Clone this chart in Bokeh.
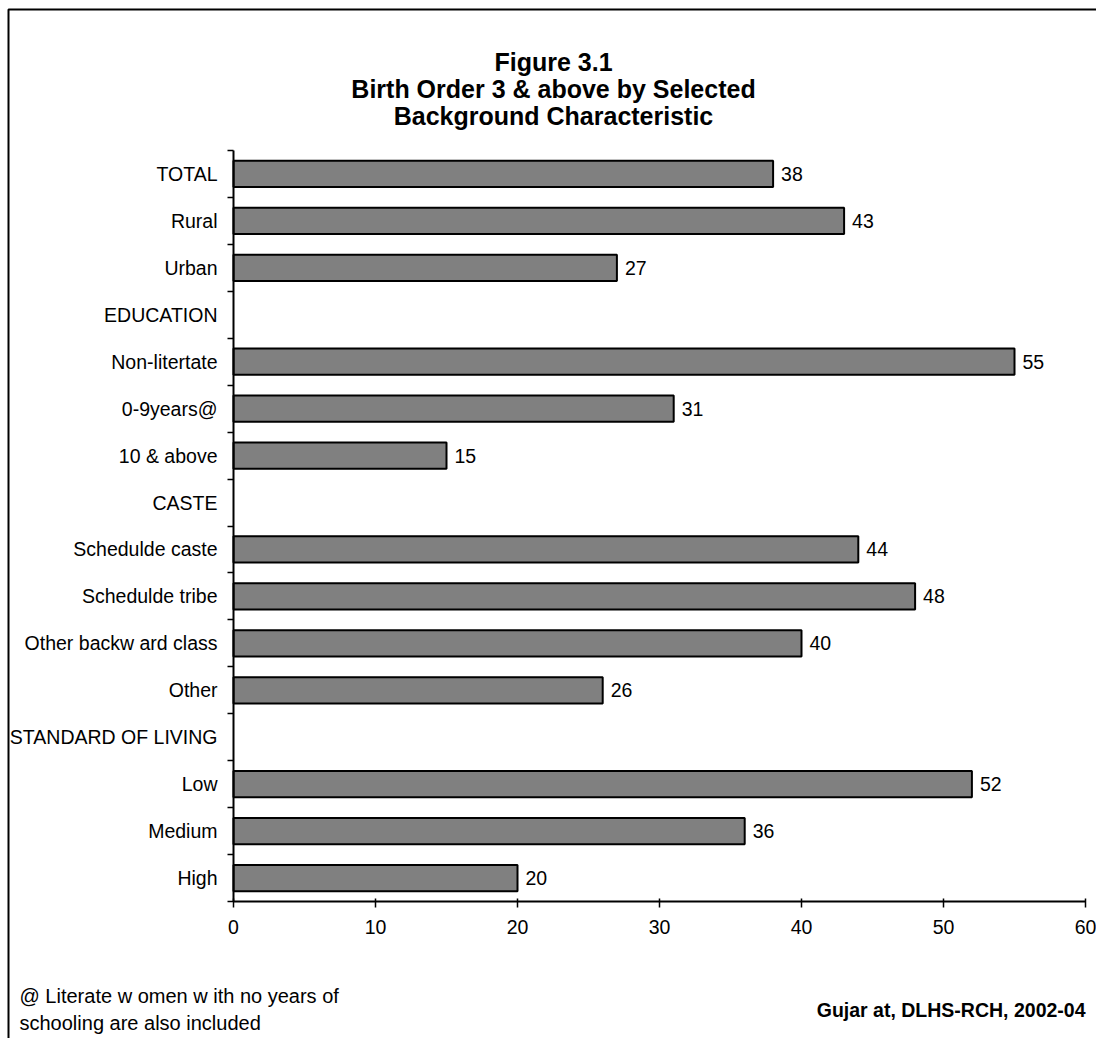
from bokeh.plotting import figure
from bokeh.models import ColumnDataSource, FixedTicker, Range1d
from bokeh.core.properties import value
from bokeh.embed import file_html
from bokeh.resources import INLINE

# Categories from top to bottom; section headers carry no value
categories = [
    "TOTAL", "Rural", "Urban",
    "EDUCATION", "Non-litertate", "0-9years@", "10 & above",
    "CASTE", "Schedulde caste", "Schedulde tribe", "Other backw ard class", "Other",
    "STANDARD OF LIVING", "Low", "Medium", "High",
]
values = [38, 43, 27, None, 55, 31, 15, None, 44, 48, 40, 26, None, 52, 36, 20]
x_ticks = [0, 10, 20, 30, 40, 50, 60]

title_lines = ["Figure 3.1",
               "Birth Order 3 & above by Selected",
               "Background Characteristic"]
footnote_lines = ["@ Literate w omen w ith no years of",
                  "schooling are also included"]
source_note = "Gujar at, DLHS-RCH, 2002-04"

FONT = "Liberation Sans"
W, H = 1096, 1038
n = len(categories)
positions = [n - i for i in range(n)]  # top row gets the highest slot

# page layout of the value axis (0..60) and the rows (0.5..n+0.5), in pixels
AX_LEFT, AX_RIGHT = 233, 1085
AX_TOP, AX_BOTTOM = 150, 901
XMIN, XMAX = 0, 60
YMIN, YMAX = 0.5, n + 0.5
SX = (AX_RIGHT - AX_LEFT) / (XMAX - XMIN)
SY = (AX_BOTTOM - AX_TOP) / (YMAX - YMIN)


def x_at(px):
    return XMIN + (px - AX_LEFT) / SX


def y_at(py):
    return YMIN + (AX_BOTTOM - py) / SY


bar_y = [pos for pos, v in zip(positions, values) if v is not None]
bar_v = [v for v in values if v is not None]
src = ColumnDataSource(dict(y=bar_y, v=bar_v, lbl=[str(v) for v in bar_v]))

# the plot frame fills the whole page; axes are pinned inside it
p = figure(
    width=W, height=H,
    x_range=Range1d(x_at(0), x_at(W)), y_range=Range1d(y_at(H), y_at(0)),
    output_backend="svg", toolbar_location=None,
    min_border=0, min_border_left=0, min_border_right=0,
    min_border_top=0, min_border_bottom=0,
)
p.background_fill_color = "white"
p.border_fill_color = "white"
p.outline_line_color = None
p.xgrid.visible = False
p.ygrid.visible = False

p.hbar(y="y", right="v", left=0, height=0.56, source=src,
       fill_color="#808080", line_color="black", line_width=2)
p.text(x="v", y="y", text="lbl", source=src, x_offset=8,
       text_align="left", text_baseline="middle",
       text_font=value(FONT), text_font_size="19.5px", text_color="black")

# x axis along the bottom of the rows
xa = p.xaxis[0]
xa.fixed_location = YMIN
xa.bounds = (XMIN, XMAX)
xa.ticker = FixedTicker(ticks=x_ticks)
xa.major_tick_in = 3
xa.major_tick_out = 6
xa.minor_tick_line_color = None
xa.axis_line_color = "black"
xa.axis_line_width = 2
xa.major_tick_line_color = "black"
xa.major_tick_line_width = 1.5
xa.major_label_text_font = FONT
xa.major_label_text_font_size = "19.5px"
xa.major_label_text_color = "black"
xa.major_label_standoff = 12

# y axis at zero: labels at row centres, tick marks on row boundaries
ya = p.yaxis[0]
ya.fixed_location = XMIN
ya.bounds = (YMIN, YMAX)
ya.ticker = FixedTicker(ticks=positions,
                        minor_ticks=[k + 0.5 for k in range(n + 1)])
ya.major_label_overrides = {pos: cat for pos, cat in zip(positions, categories)}
ya.major_tick_line_color = None
ya.major_tick_in = 0
ya.major_tick_out = 0
ya.minor_tick_in = 0
ya.minor_tick_out = 6
ya.minor_tick_line_color = "black"
ya.minor_tick_line_width = 1.5
ya.axis_line_color = "black"
ya.axis_line_width = 2
ya.major_label_text_font = FONT
ya.major_label_text_font_size = "19.5px"
ya.major_label_text_color = "black"
ya.major_label_standoff = 10

# title block
p.text(x=[x_at(553)] * 3, y=[y_at(61), y_at(88), y_at(115)], text=title_lines,
       text_align="center", text_baseline="alphabetic",
       text_font=value(FONT), text_font_size="25px",
       text_font_style="bold", text_color="black")

# footnote and source
p.text(x=[x_at(19)] * 2, y=[y_at(995), y_at(1022)], text=footnote_lines,
       text_align="left", text_baseline="alphabetic",
       text_font=value(FONT), text_font_size="20px", text_color="black")
p.text(x=[x_at(1085)], y=[y_at(1009)], text=[source_note],
       text_align="right", text_baseline="alphabetic",
       text_font=value(FONT), text_font_size="19.5px",
       text_font_style="bold", text_color="black")

# chart border, open towards the right and bottom page edges
p.line(x=[x_at(8), x_at(8), x_at(W + 10)], y=[y_at(H + 10), y_at(9), y_at(9)],
       line_color="black", line_width=2)

open("out.html", "w").write(file_html(p, INLINE))
